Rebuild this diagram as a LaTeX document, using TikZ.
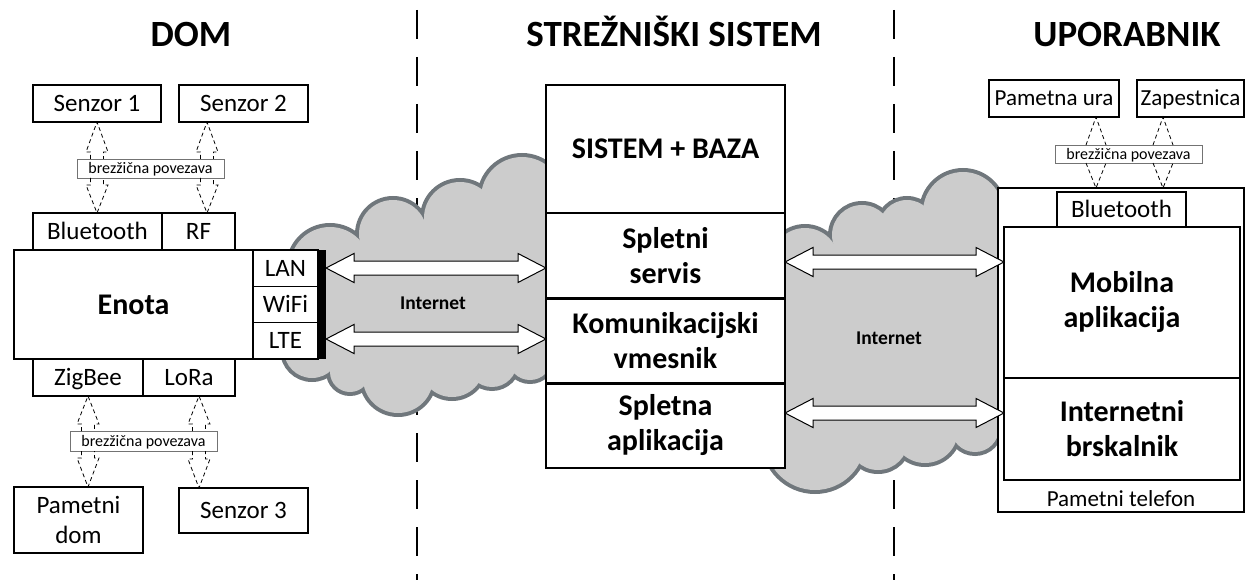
\documentclass[tikz,border=0pt]{standalone}
\usepackage{fontspec}
\setmainfont{Carlito}
\usetikzlibrary{calc}
\definecolor{cloudline}{RGB}{112,119,124}
\definecolor{cloudfill}{RGB}{204,204,204}
% vertical dashed block arrow, tip above base (in picture: tip has smaller pixel y)
\newcommand\upblk[5]{\draw[dasharrow] let \p1=(#1), \p2=(#2) in
  (\x2-#3pt,\y1) -- (\x2-#3pt,\y2-#5pt) -- (\x2-#4pt,\y2-#5pt) -- (\x2,\y2)
  -- (\x2+#4pt,\y2-#5pt) -- (\x2+#3pt,\y2-#5pt) -- (\x2+#3pt,\y1);}
\newcommand\downblk[5]{\draw[dasharrow] let \p1=(#1), \p2=(#2) in
  (\x2-#3pt,\y1) -- (\x2-#3pt,\y2+#5pt) -- (\x2-#4pt,\y2+#5pt) -- (\x2,\y2)
  -- (\x2+#4pt,\y2+#5pt) -- (\x2+#3pt,\y2+#5pt) -- (\x2+#3pt,\y1);}
% head-only dashed arrow
\newcommand\headonly[3]{\draw[dasharrow] let \p1=(#1), \p2=(#2) in
  (\x2-#3pt,\y1) -- (\x2,\y2) -- (\x2+#3pt,\y1);}
% white horizontal double block arrow
\newcommand\hdbl[2]{\draw[dbl] let \p1=(#1), \p2=(#2) in
  (\x1,\y1) -- (\x1+28pt,\y1+14.5pt) -- (\x1+28pt,\y1+7pt) -- (\x2-28pt,\y1+7pt)
  -- (\x2-28pt,\y1+14.5pt) -- (\x2,\y1) -- (\x2-28pt,\y1-14.5pt) -- (\x2-28pt,\y1-7pt)
  -- (\x1+28pt,\y1-7pt) -- (\x1+28pt,\y1-14.5pt) -- cycle;}
\begin{document}
\begin{tikzpicture}[x=1pt,y=-1pt,
  boxbase/.style={draw, line width=1.5pt, fill=white, inner sep=0pt, outer sep=0pt,
    anchor=north west, align=center},
  box/.style={boxbase, font=\fontsize{25}{30}\selectfont, text height=21pt, text depth=5pt},
  mbox/.style={boxbase, font=\fontsize{25}{29.5}\selectfont},
  bbox/.style={boxbase, font=\bfseries\fontsize{30}{35}\selectfont},
  sbox/.style={boxbase, font=\fontsize{23}{27}\selectfont, text height=19.3pt, text depth=4.6pt},
  wl/.style={draw=black!55, line width=0.8pt, fill=white, inner sep=0pt, outer sep=0pt,
    anchor=north west, font=\fontsize{16}{19}\selectfont, text height=13.4pt, text depth=3.2pt},
  title/.style={font=\bfseries\fontsize{37}{44}\selectfont, inner sep=0pt, anchor=base},
  nettext/.style={font=\bfseries\fontsize{19.5}{23}\selectfont, inner sep=0pt},
  sepline/.style={line width=1.5pt, dash pattern=on 29pt off 18pt},
  dasharrow/.style={draw=black, line width=0.8pt, dash pattern=on 4pt off 3pt},
  dbl/.style={draw=black, line width=1pt, fill=white, line join=miter},
  cloudstroke/.style={draw=cloudline, line width=8pt},
  cloudfillst/.style={fill=cloudfill, draw=none}]
\useasboundingbox (0,0) rectangle (1246,580);

% titles
\node[title] (tdom) at (191,47) {DOM};
\node[title] (tsrv) at (674,47) {STREŽNIŠKI SISTEM};
\node[title] (tusr) at (1127,47) {UPORABNIK};

% separators
\draw[sepline] (417,10) -- (417,580);
\draw[sepline] (894,10) -- (894,580);

% left cloud
\foreach \cx/\cy/\r in {330/267/40, 393/234/34, 460/218/36, 522/198/41,
    530/358/22, 492/362/25, 452/365/32, 398/378/35, 350/372/20, 312/350/28}
  {\draw[cloudstroke] (\cx,\cy) circle[radius=\r pt];}
\foreach \cx/\cy/\r in {330/267/40, 393/234/34, 460/218/36, 522/198/41,
    530/358/22, 492/362/25, 452/365/32, 398/378/35, 350/372/20, 312/350/28}
  {\fill[cloudfillst] (\cx,\cy) circle[radius=\r pt];}
\fill[cloudfillst] (330,267) -- (393,234) -- (460,218) -- (522,198) -- (560,198)
  -- (560,358) -- (530,358) -- (492,362) -- (452,365) -- (398,378) -- (350,372)
  -- (312,350) -- (300,300) -- cycle;

% right cloud
\foreach \cx/\cy/\r in {805/262/34, 862/235/30, 907/228/28, 963/212/40,
    975/428/24, 925/430/33, 878/440/30, 815/440/50}
  {\draw[cloudstroke] (\cx,\cy) circle[radius=\r pt];}
\foreach \cx/\cy/\r in {805/262/34, 862/235/30, 907/228/28, 963/212/40,
    975/428/24, 925/430/33, 878/440/30, 815/440/50}
  {\fill[cloudfillst] (\cx,\cy) circle[radius=\r pt];}
\fill[cloudfillst] (805,262) -- (862,235) -- (907,228) -- (963,212) -- (1010,212)
  -- (1010,428) -- (975,428) -- (925,430) -- (878,440) -- (815,440) -- (765,440)
  -- (765,262) -- cycle;

% ---------- DOM ----------
\node[box, minimum width=128pt, minimum height=37pt] (s1) at (33,85) {Senzor 1};
\node[box, minimum width=129pt, minimum height=37pt] (s2) at (179,85) {Senzor 2};
\node[wl, minimum width=147pt, minimum height=19pt] (l1) at (77,159) {brezžična povezava};
\node[box, minimum width=129pt, minimum height=37pt] (bt) at (33,213) {Bluetooth};
\node[box, minimum width=73pt, minimum height=37pt] (rf) at (162,213) {RF};
\node[bbox, minimum width=239pt, minimum height=109pt] (enota) at (14,250) {Enota};
\node[box, minimum width=65pt, minimum height=36.33pt] (lan) at (253,250) {LAN};
\node[box, minimum width=65pt, minimum height=36.33pt] (wifi) at (253,286.33) {WiFi};
\node[box, minimum width=65pt, minimum height=36.33pt] (lte) at (253,322.67) {LTE};
\node[fill=black, inner sep=0pt, outer sep=0pt, anchor=north west,
  minimum width=8pt, minimum height=109pt] (bar) at (318,250) {};
\node[box, minimum width=110pt, minimum height=37pt] (zig) at (33,359) {ZigBee};
\node[box, minimum width=92pt, minimum height=37pt] (lora) at (143,359) {LoRa};
\node[wl, minimum width=147pt, minimum height=20pt] (l2) at (70,431) {brezžična povezava};
\node[mbox, minimum width=129pt, minimum height=66pt] (pd) at (14,487) {Pametni\\dom};
\node[box, minimum width=129pt, minimum height=45pt] (s3) at (179,488) {Senzor 3};

\coordinate (c1) at (97,0);
\coordinate (c2) at (207,0);
\coordinate (c3) at (88,0);
\coordinate (c4) at (199,0);
\upblk{l1.north -| c1}{s1.south -| c1}{6.5}{11}{30}
\downblk{l1.south -| c1}{bt.north -| c1}{6.5}{11}{28}
\upblk{l1.north -| c2}{s2.south -| c2}{6.5}{11}{30}
\downblk{l1.south -| c2}{rf.north -| c2}{6.5}{11}{28}
\upblk{l2.north -| c3}{zig.south -| c3}{6.5}{11}{28}
\downblk{l2.south -| c3}{pd.north -| c3}{6.5}{11}{29}
\upblk{l2.north -| c4}{lora.south -| c4}{6.5}{11}{28}
\downblk{l2.south -| c4}{s3.north -| c4}{6.5}{11}{29}

% ---------- SERVER ----------
\node[bbox, minimum width=239pt, minimum height=128pt] (sys) at (546,85) {SISTEM + BAZA};
\node[bbox, minimum width=239pt, minimum height=85pt] (ss) at (546,213) {Spletni\\servis};
\node[bbox, minimum width=239pt, minimum height=85pt] (km) at (546,298) {Komunikacijski\\vmesnik};
\node[bbox, minimum width=239pt, minimum height=85pt] (sa) at (546,383) {Spletna\\aplikacija};
\draw[line width=3pt] (ss.south west) -- (ss.south east);
\draw[line width=3pt] (km.south west) -- (km.south east);

% ---------- USER ----------
\node[sbox, minimum width=130pt, minimum height=37pt] (pu) at (989,80) {Pametna ura};
\node[sbox, minimum width=107pt, minimum height=37pt] (zp) at (1137,80) {Zapestnica};
\node[wl, minimum width=147pt, minimum height=18pt] (l3) at (1055,145) {brezžična povezava};
\node[boxbase, minimum width=246pt, minimum height=324pt] (phone) at (998,188) {};
\node[box, minimum width=129pt, minimum height=35pt] (bt2) at (1057,192) {Bluetooth};
\node[bbox, minimum width=236pt, minimum height=151pt] (mob) at (1004,227) {Mobilna\\aplikacija};
\node[bbox, minimum width=236pt, minimum height=102pt] (ib) at (1004,378) {Internetni\\brskalnik};
\node[font=\fontsize{23}{27}\selectfont, inner sep=0pt, anchor=base] (ptl) at (1121,506) {Pametni telefon};

\coordinate (c5) at (1096,0);
\coordinate (c6) at (1163,0);
\headonly{l3.north -| c5}{pu.south -| c5}{10}
\headonly{l3.south -| c5}{phone.north -| c5}{10}
\headonly{l3.north -| c6}{zp.south -| c6}{10}
\headonly{l3.south -| c6}{phone.north -| c6}{10}

% ---------- internet arrows ----------
\coordinate (y1) at (0,268);
\coordinate (y2) at (0,339);
\coordinate (y3) at (0,262);
\coordinate (y4) at (0,413);
\hdbl{bar.east |- y1}{ss.west |- y1}
\hdbl{bar.east |- y2}{km.west |- y2}
\hdbl{ss.east |- y3}{mob.west |- y3}
\hdbl{sa.east |- y4}{ib.west |- y4}

\node[nettext] (net1) at (433,303) {Internet};
\node[nettext] (net2) at (889,338) {Internet};
\end{tikzpicture}
\end{document}
